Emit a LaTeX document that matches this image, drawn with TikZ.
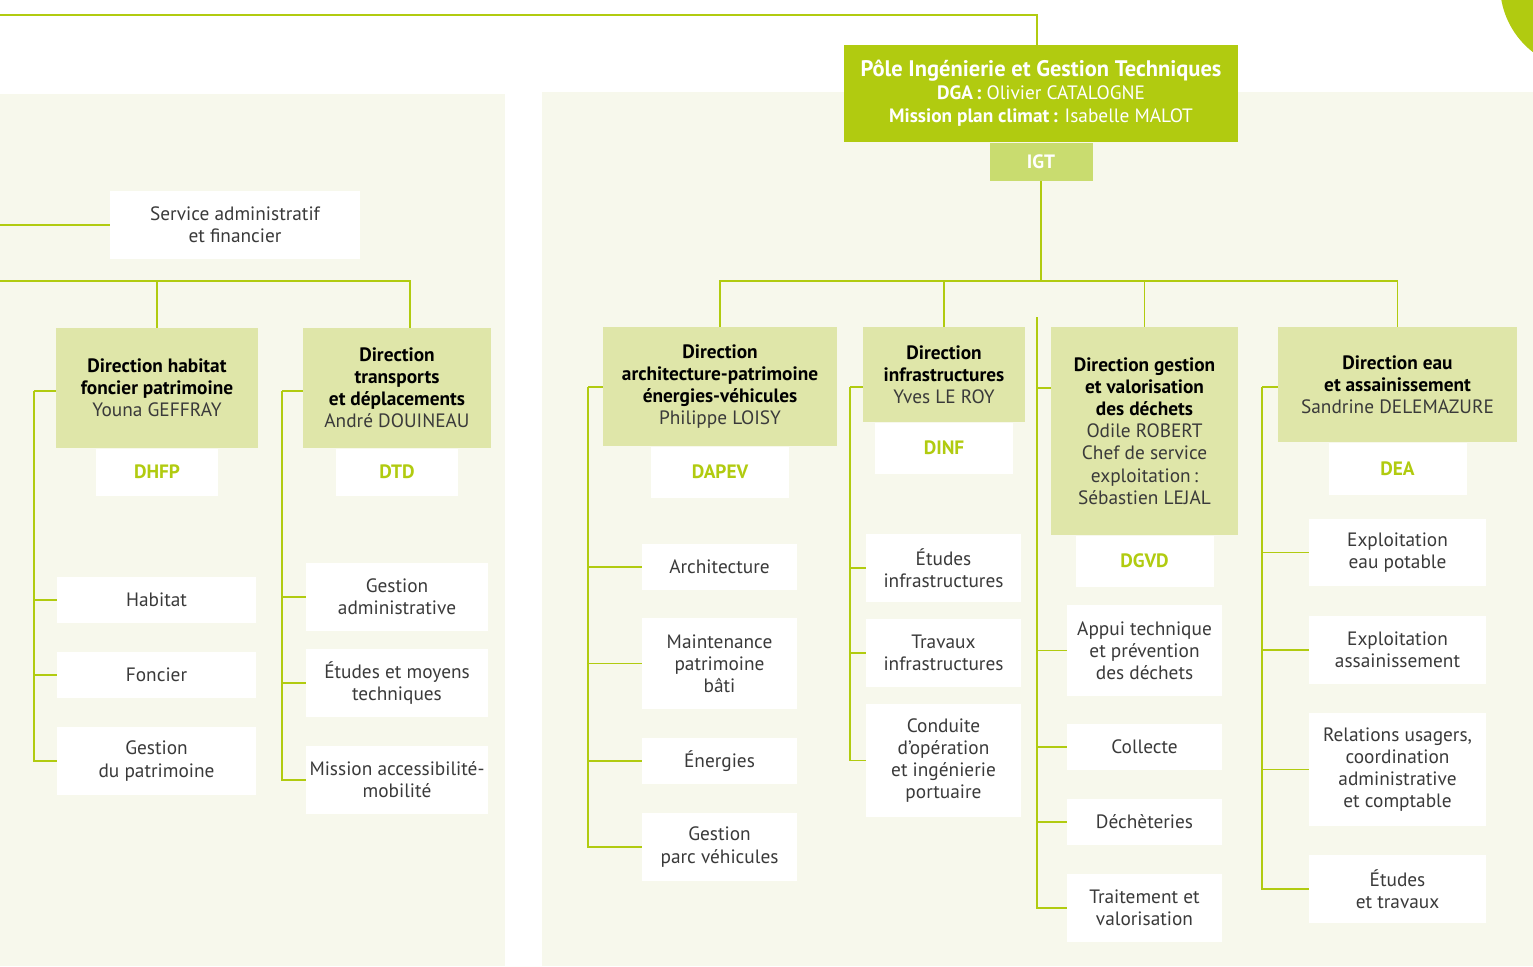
\documentclass[tikz,border=0pt]{standalone}
\usepackage{fontspec}
\setmainfont{PT Sans}
\usetikzlibrary{positioning}
\definecolor{lime}{HTML}{B1CB10}
\definecolor{igtfill}{HTML}{C9DC6F}
\definecolor{dirfill}{HTML}{DFE6A9}
\definecolor{panel}{HTML}{F7F8EC}
\definecolor{txt}{HTML}{3A3A3A}
\tikzset{
    unit/.style = {
       shape=rectangle,
       align=center,
       inner sep=0pt,
       fill=white,
       text=txt,
       font=\fontsize{11}{12.6}\selectfont
    },
    dir/.style = {
       unit,
       fill=dirfill
    },
    code/.style = {
       unit,
       text=lime,
       font=\bfseries\fontsize{11}{12.6}\selectfont
    },
    pole/.style = {
       unit,
       fill=lime,
       text=white,
       font=\fontsize{11}{13}\selectfont
    },
    link/.style = {
       draw=lime,
       line width=0.9pt
    }
}
\newcommand{\hd}[1]{\textcolor{black}{\textbf{#1}}}

\begin{document}
\begin{tikzpicture}[x=0.02cm,y=-0.02cm,node distance=0pt]
   \useasboundingbox (0,0) rectangle (1533,966);
   \fill[panel] (0,94) rectangle (505,966);
   \fill[panel] (542,92) rectangle (1533,966);
   \fill[lime] (1585,-15) circle (1.7cm);
   % head
   \node[pole, minimum width=7.88cm, minimum height=1.94cm] (Pole) at (1041,93.5)
      {{\fontsize{12.8}{13.4}\selectfont\textbf{Pôle Ingénierie et Gestion Techniques}}\\
       \textbf{DGA\,:} Olivier CATALOGNE\\\textbf{Mission plan climat\,:} Isabelle MALOT};
   \node[unit, fill=igtfill, text=white, font=\bfseries\fontsize{11}{12.6}\selectfont,
      minimum width=2.06cm, minimum height=0.76cm, below=of Pole] (IGT) {IGT};
   % left panel
   \node[unit, minimum width=5cm, minimum height=1.36cm] (SAF) at (235,225) {Service administratif\\et financier};
   \node[dir, minimum width=4.04cm, minimum height=2.4cm] (DHFP) at (157,388)
      {\hd{Direction habitat}\\\hd{foncier patrimoine}\\Youna GEFFRAY};
   \node[code, minimum width=2.44cm, minimum height=0.94cm, below=of DHFP] (DHFPc) {DHFP};
   \node[unit, minimum width=3.98cm, minimum height=0.92cm] (Habitat) at (156.5,600) {Habitat};
   \node[unit, minimum width=3.98cm, minimum height=0.92cm] (Foncier) at (156.5,675) {Foncier};
   \node[unit, minimum width=3.98cm, minimum height=1.36cm] (Gpat) at (156.5,761) {Gestion\\du patrimoine};
   \node[dir, minimum width=3.76cm, minimum height=2.4cm] (DTD) at (397,388)
      {\hd{Direction}\\\hd{transports}\\\hd{et déplacements}\\André DOUINEAU};
   \node[code, minimum width=2.44cm, minimum height=0.94cm, below=of DTD] (DTDc) {DTD};
   \node[unit, minimum width=3.64cm, minimum height=1.36cm] (Gadm) at (397,597) {Gestion\\administrative};
   \node[unit, minimum width=3.64cm, minimum height=1.36cm] (Etm) at (397,683) {Études et moyens\\techniques};
   \node[unit, minimum width=3.64cm, minimum height=1.36cm] (Macc) at (397,780) {Mission accessibilité-\\mobilité};
   % right panel
   \node[dir, minimum width=4.68cm, minimum height=2.38cm] (DAPEV) at (720,386.5)
      {\hd{Direction}\\\hd{architecture-patrimoine}\\\hd{énergies-véhicules}\\Philippe LOISY};
   \node[code, minimum width=2.76cm, minimum height=1.02cm, below=of DAPEV] (DAPEVc) {DAPEV};
   \node[unit, minimum width=3.1cm, minimum height=0.92cm] (Archi) at (719.5,567) {Architecture};
   \node[unit, minimum width=3.1cm, minimum height=1.82cm] (Maint) at (719.5,663.5) {Maintenance\\patrimoine\\bâti};
   \node[unit, minimum width=3.1cm, minimum height=0.92cm] (Ener) at (719.5,761) {Énergies};
   \node[unit, minimum width=3.1cm, minimum height=1.36cm] (Parc) at (719.5,847) {Gestion\\parc véhicules};
   \node[dir, minimum width=3.24cm, minimum height=1.9cm] (DINF) at (944,374.5)
      {\hd{Direction}\\\hd{infrastructures}\\Yves LE ROY};
   \node[code, minimum width=2.76cm, minimum height=1.02cm, below=of DINF] (DINFc) {DINF};
   \node[unit, minimum width=3.1cm, minimum height=1.36cm] (Etinf) at (943.5,568) {Études\\infrastructures};
   \node[unit, minimum width=3.1cm, minimum height=1.36cm] (Trinf) at (943.5,653) {Travaux\\infrastructures};
   \node[unit, minimum width=3.1cm, minimum height=2.26cm] (Cond) at (943.5,760.5) {Conduite\\d'opération\\et ingénierie\\portuaire};
   \node[dir, minimum width=3.74cm, minimum height=4.16cm] (DGVD) at (1144.5,431)
      {\hd{Direction gestion}\\\hd{et valorisation}\\\hd{des déchets}\\Odile ROBERT\\Chef de service\\exploitation\,:\\Sébastien LEJAL};
   \node[code, minimum width=2.76cm, minimum height=1.02cm, below=of DGVD] (DGVDc) {DGVD};
   \node[unit, minimum width=3.1cm, minimum height=1.82cm] (Appui) at (1144.5,650.5) {Appui technique\\et prévention\\des déchets};
   \node[unit, minimum width=3.1cm, minimum height=0.92cm] (Coll) at (1144.5,747) {Collecte};
   \node[unit, minimum width=3.1cm, minimum height=0.92cm] (Dech) at (1144.5,822) {Déchèteries};
   \node[unit, minimum width=3.1cm, minimum height=1.36cm] (Trait) at (1144.5,908) {Traitement et\\valorisation};
   \node[dir, minimum width=4.78cm, minimum height=2.3cm] (DEA) at (1397.5,384.5)
      {\hd{Direction eau}\\\hd{et assainissement}\\Sandrine DELEMAZURE};
   \node[code, minimum width=2.76cm, minimum height=1.04cm, below=of DEA] (DEAc) {DEA};
   \node[unit, minimum width=3.54cm, minimum height=1.34cm] (Expe) at (1397.5,552.5) {Exploitation\\eau potable};
   \node[unit, minimum width=3.54cm, minimum height=1.36cm] (Expa) at (1397.5,650) {Exploitation\\assainissement};
   \node[unit, minimum width=3.54cm, minimum height=2.26cm] (Rel) at (1397.5,769.5) {Relations usagers,\\coordination\\administrative\\et comptable};
   \node[unit, minimum width=3.54cm, minimum height=1.36cm] (Etr) at (1397.5,889) {Études\\et travaux};
   % links
   \coordinate (topL) at (0,15);
   \coordinate (barL) at (0,281);
   \coordinate (saL) at (0,225);
   \coordinate (hub) at (1040,281);
   \coordinate (tDHFP) at (34,391);
   \coordinate (tDTD) at (282,391);
   \coordinate (tDAPEV) at (588,387);
   \coordinate (tDINF) at (850,387);
   \coordinate (tDGVD0) at (1037,317);
   \coordinate (tDGVD) at (1037,388);
   \coordinate (tDEA) at (1262,387);
\path[link]
(topL) edge[to path={-| (\tikztotarget)}] ([xshift=-2.3pt]Pole.north)
(saL) edge (SAF.west)
(barL) edge[to path={-| (\tikztotarget)}] (DHFP.north)
(barL) edge[to path={-| (\tikztotarget)}] ([xshift=7.4pt]DTD.north)
(IGT.south) edge (IGT.south |- hub)
(tDGVD0) edge (tDGVD);
   \foreach \d in {DAPEV,DINF,DGVD,DEA}
      \draw[link] (IGT.south |- hub) -| (\d.north);
   \foreach \d/\cs in {DHFP/{Habitat,Foncier,Gpat},DTD/{Gadm,Etm,Macc},
         DAPEV/{Archi,Maint,Ener,Parc},DINF/{Etinf,Trinf,Cond},
         DGVD/{Appui,Coll,Dech,Trait},DEA/{Expe,Expa,Rel,Etr}}{
      \draw[link] (t\d) -- (t\d -| \d.west);
      \foreach \c in \cs
         \draw[link] (t\d) |- (\c.west);
   }
\end{tikzpicture}
\end{document}
